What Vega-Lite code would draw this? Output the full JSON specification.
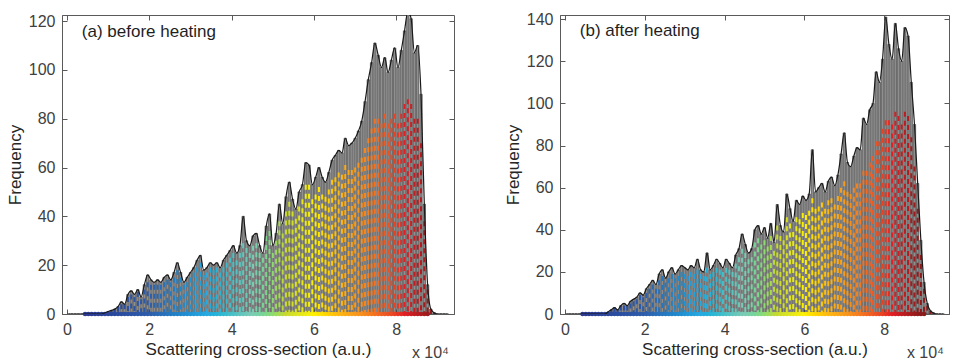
{
  "$schema": "https://vega.github.io/schema/vega-lite/v6.json",
  "background": "white",
  "padding": {"left": 5, "top": 10, "right": 4, "bottom": 0},
  "spacing": 48,
  "datasets": {
    "a": [
      {"x":0.04,"f":0,"c":0},{"x":0.12,"f":0,"c":0},{"x":0.2,"f":0,"c":0},{"x":0.28,"f":0,"c":0},{"x":0.36,"f":0,"c":0},{"x":0.44,"f":0,"c":0},{"x":0.52,"f":0,"c":0},{"x":0.6,"f":0,"c":0},{"x":0.68,"f":0,"c":0},{"x":0.76,"f":0,"c":0},{"x":0.84,"f":0,"c":0},
      {"x":0.92,"f":0.5,"c":0.5},{"x":1.0,"f":1,"c":1},{"x":1.08,"f":1.5,"c":1.5},{"x":1.16,"f":2,"c":2},{"x":1.24,"f":3,"c":3},{"x":1.32,"f":5,"c":4},{"x":1.4,"f":4,"c":4},{"x":1.48,"f":8,"c":7},{"x":1.56,"f":9.5,"c":8},{"x":1.64,"f":8,"c":7},{"x":1.72,"f":10,"c":9},{"x":1.8,"f":7,"c":6},{"x":1.88,"f":12,"c":10},{"x":1.96,"f":16,"c":13},
      {"x":2.04,"f":14,"c":12},{"x":2.12,"f":13,"c":12},{"x":2.2,"f":14,"c":12},{"x":2.28,"f":13,"c":12},{"x":2.36,"f":15,"c":13},{"x":2.44,"f":16,"c":14},{"x":2.52,"f":14,"c":13},{"x":2.6,"f":17,"c":15},{"x":2.68,"f":21,"c":18},{"x":2.76,"f":17,"c":15},{"x":2.84,"f":13,"c":12},{"x":2.92,"f":15,"c":13},
      {"x":3.0,"f":17,"c":15},{"x":3.08,"f":19,"c":17},{"x":3.16,"f":22,"c":19},{"x":3.24,"f":24,"c":21},{"x":3.32,"f":18,"c":16},{"x":3.4,"f":19,"c":17},{"x":3.48,"f":21,"c":19},{"x":3.56,"f":20,"c":18},{"x":3.64,"f":21,"c":19},{"x":3.72,"f":19,"c":17},{"x":3.8,"f":22,"c":19},{"x":3.88,"f":24,"c":21},{"x":3.96,"f":26,"c":23},
      {"x":4.04,"f":28,"c":25},{"x":4.12,"f":25,"c":22},{"x":4.2,"f":28,"c":25},{"x":4.28,"f":40,"c":29},{"x":4.36,"f":30,"c":27},{"x":4.44,"f":28,"c":25},{"x":4.52,"f":32,"c":28},{"x":4.6,"f":33,"c":29},{"x":4.68,"f":28,"c":25},{"x":4.76,"f":25,"c":23},{"x":4.84,"f":36,"c":32},{"x":4.92,"f":41,"c":34},
      {"x":5.0,"f":28,"c":25},{"x":5.08,"f":33,"c":30},{"x":5.16,"f":45,"c":38},{"x":5.24,"f":37,"c":33},{"x":5.32,"f":48,"c":42},{"x":5.4,"f":54,"c":46},{"x":5.48,"f":47,"c":42},{"x":5.56,"f":43,"c":39},{"x":5.64,"f":50,"c":44},{"x":5.72,"f":53,"c":47},{"x":5.8,"f":62,"c":53},{"x":5.88,"f":61,"c":53},{"x":5.96,"f":53,"c":47},
      {"x":6.04,"f":56,"c":49},{"x":6.12,"f":60,"c":52},{"x":6.2,"f":56,"c":49},{"x":6.28,"f":54,"c":48},{"x":6.36,"f":58,"c":51},{"x":6.44,"f":63,"c":55},{"x":6.52,"f":65,"c":56},{"x":6.6,"f":67,"c":58},{"x":6.68,"f":66,"c":57},{"x":6.76,"f":72,"c":61},{"x":6.84,"f":69,"c":59},{"x":6.92,"f":70,"c":59},
      {"x":7.0,"f":72,"c":60},{"x":7.08,"f":75,"c":62},{"x":7.16,"f":79,"c":64},{"x":7.24,"f":87,"c":68},{"x":7.32,"f":96,"c":72},{"x":7.4,"f":103,"c":76},{"x":7.48,"f":111,"c":80},{"x":7.56,"f":106,"c":80},{"x":7.64,"f":101,"c":78},{"x":7.72,"f":105,"c":82},{"x":7.8,"f":99,"c":78},{"x":7.88,"f":104,"c":80},{"x":7.96,"f":109,"c":82},
      {"x":8.04,"f":101,"c":78},{"x":8.12,"f":108,"c":82},{"x":8.2,"f":116,"c":86},{"x":8.28,"f":124,"c":88},{"x":8.36,"f":121,"c":86},{"x":8.44,"f":107,"c":80},{"x":8.52,"f":110,"c":80},{"x":8.6,"f":90,"c":70},{"x":8.68,"f":45,"c":38},{"x":8.76,"f":12,"c":10},{"x":8.84,"f":2,"c":2},{"x":8.92,"f":0.5,"c":0.5},
      {"x":9.0,"f":0,"c":0},{"x":9.08,"f":0,"c":0},{"x":9.16,"f":0,"c":0},{"x":9.24,"f":0,"c":0}
    ],
    "b": [
      {"x":0.04,"f":0,"c":0},{"x":0.12,"f":0,"c":0},{"x":0.2,"f":0,"c":0},{"x":0.28,"f":0,"c":0},{"x":0.36,"f":0,"c":0},{"x":0.44,"f":0,"c":0},{"x":0.52,"f":0,"c":0},{"x":0.6,"f":0,"c":0},{"x":0.68,"f":0,"c":0},{"x":0.76,"f":0,"c":0},{"x":0.84,"f":0,"c":0},{"x":0.92,"f":0,"c":0},{"x":1.0,"f":0,"c":0},
      {"x":1.08,"f":1,"c":1},{"x":1.16,"f":2,"c":2},{"x":1.24,"f":3,"c":3},{"x":1.32,"f":2,"c":2},{"x":1.4,"f":4,"c":4},{"x":1.48,"f":5,"c":4},{"x":1.56,"f":4,"c":4},{"x":1.64,"f":6,"c":5},{"x":1.72,"f":7,"c":6},{"x":1.8,"f":8,"c":7},{"x":1.88,"f":10,"c":9},{"x":1.96,"f":9,"c":8},
      {"x":2.04,"f":12,"c":10},{"x":2.12,"f":14,"c":12},{"x":2.2,"f":16,"c":14},{"x":2.28,"f":14,"c":12},{"x":2.36,"f":19,"c":16},{"x":2.44,"f":21,"c":18},{"x":2.52,"f":17,"c":15},{"x":2.6,"f":20,"c":17},{"x":2.68,"f":22,"c":19},{"x":2.76,"f":19,"c":17},{"x":2.84,"f":21,"c":18},{"x":2.92,"f":23,"c":20},
      {"x":3.0,"f":22,"c":19},{"x":3.08,"f":21,"c":18},{"x":3.16,"f":23,"c":20},{"x":3.24,"f":22,"c":19},{"x":3.32,"f":26,"c":21},{"x":3.4,"f":21,"c":19},{"x":3.48,"f":20,"c":18},{"x":3.56,"f":29,"c":22},{"x":3.64,"f":21,"c":19},{"x":3.72,"f":23,"c":20},{"x":3.8,"f":26,"c":22},{"x":3.88,"f":24,"c":21},{"x":3.96,"f":22,"c":20},
      {"x":4.04,"f":26,"c":22},{"x":4.12,"f":24,"c":21},{"x":4.2,"f":22,"c":20},{"x":4.28,"f":28,"c":24},{"x":4.36,"f":31,"c":27},{"x":4.44,"f":38,"c":31},{"x":4.52,"f":33,"c":29},{"x":4.6,"f":29,"c":26},{"x":4.68,"f":31,"c":27},{"x":4.76,"f":40,"c":34},{"x":4.84,"f":42,"c":36},{"x":4.92,"f":38,"c":33},
      {"x":5.0,"f":41,"c":35},{"x":5.08,"f":36,"c":32},{"x":5.16,"f":43,"c":37},{"x":5.24,"f":34,"c":30},{"x":5.32,"f":52,"c":42},{"x":5.4,"f":42,"c":37},{"x":5.48,"f":39,"c":35},{"x":5.56,"f":57,"c":46},{"x":5.64,"f":50,"c":43},{"x":5.72,"f":44,"c":39},{"x":5.8,"f":54,"c":46},{"x":5.88,"f":52,"c":45},{"x":5.96,"f":56,"c":48},
      {"x":6.04,"f":54,"c":47},{"x":6.12,"f":57,"c":49},{"x":6.2,"f":78,"c":55},{"x":6.28,"f":58,"c":50},{"x":6.36,"f":60,"c":51},{"x":6.44,"f":62,"c":53},{"x":6.52,"f":58,"c":50},{"x":6.6,"f":63,"c":54},{"x":6.68,"f":65,"c":55},{"x":6.76,"f":61,"c":52},{"x":6.84,"f":66,"c":56},{"x":6.92,"f":76,"c":60},
      {"x":7.0,"f":86,"c":63},{"x":7.08,"f":72,"c":58},{"x":7.16,"f":70,"c":57},{"x":7.24,"f":75,"c":60},{"x":7.32,"f":79,"c":62},{"x":7.4,"f":78,"c":62},{"x":7.48,"f":93,"c":68},{"x":7.56,"f":90,"c":68},{"x":7.64,"f":97,"c":72},{"x":7.72,"f":100,"c":75},{"x":7.8,"f":115,"c":82},{"x":7.88,"f":110,"c":82},{"x":7.96,"f":121,"c":88},
      {"x":8.04,"f":141,"c":92},{"x":8.12,"f":128,"c":92},{"x":8.2,"f":121,"c":90},{"x":8.28,"f":138,"c":96},{"x":8.36,"f":126,"c":94},{"x":8.44,"f":120,"c":90},{"x":8.52,"f":136,"c":96},{"x":8.6,"f":132,"c":94},{"x":8.68,"f":110,"c":84},{"x":8.76,"f":90,"c":70},{"x":8.84,"f":62,"c":50},{"x":8.92,"f":35,"c":28},
      {"x":9.0,"f":15,"c":12},{"x":9.08,"f":5,"c":4},{"x":9.16,"f":1.5,"c":1.5},{"x":9.24,"f":0.5,"c":0.5},{"x":9.32,"f":0,"c":0},{"x":9.4,"f":0,"c":0},{"x":9.48,"f":0,"c":0}
    ]
  },
  "hconcat": [
    {
      "width": 392,
      "height": 299,
      "data": {"name": "a"},
      "resolve": {"axis": {"x": "independent", "y": "independent"}},
      "layer": [
        {
          "mark": {"type": "bar", "orient": "vertical", "width": 2.4, "fill": "#8f8f8f", "stroke": "#333333", "strokeWidth": 0.6, "clip": true},
          "encoding": {
            "x": {"field": "x", "type": "quantitative", "scale": {"domain": [0, 9.28], "nice": false, "zero": false}, "axis": {"values": [0, 2, 4, 6, 8], "title": "Scattering cross-section (a.u.)"}},
            "y": {"field": "f", "type": "quantitative", "scale": {"domain": [0, 122.5], "nice": false}, "axis": {"values": [0, 20, 40, 60, 80, 100, 120], "title": "Frequency"}}
          }
        },
        {
          "mark": {"type": "rule", "strokeWidth": 2, "strokeDash": [5, 4], "clip": true},
          "encoding": {
            "x": {"field": "x", "type": "quantitative", "axis": {"orient": "top", "values": [0, 2, 4, 6, 8], "labels": false, "title": null, "domain": false}},
            "y": {"field": "c", "type": "quantitative", "axis": {"orient": "right", "values": [0, 20, 40, 60, 80, 100, 120], "labels": false, "title": null, "domain": false}},
            "y2": {"datum": 0},
            "color": {"field": "x", "type": "quantitative", "legend": null, "scale": {"domain": [0.5, 2, 3.4, 4.5, 5.3, 6.0, 6.6, 7.1, 7.6, 8.2, 8.9], "range": ["#2b3990", "#2e5daa", "#27aae1", "#7dcbb4", "#c5d92d", "#fff200", "#fdb913", "#f7941d", "#f26522", "#e31e25", "#8b1a1a"], "clamp": true}}
          }
        },
        {
          "transform": [{"filter": "datum.x >= 0.44 && datum.x <= 8.8"}],
          "mark": {"type": "point", "filled": true, "size": 22, "opacity": 1},
          "encoding": {
            "x": {"field": "x", "type": "quantitative", "axis": null},
            "y": {"datum": 0, "axis": null},
            "color": {"field": "x", "type": "quantitative", "legend": null}
          }
        },
        {
          "mark": {"type": "line", "interpolate": "monotone", "color": "#1a1a1a", "strokeWidth": 1.2, "clip": true},
          "encoding": {
            "x": {"field": "x", "type": "quantitative", "axis": null},
            "y": {"field": "f", "type": "quantitative", "axis": null}
          }
        },
        {
          "data": {"values": [{}]},
          "mark": {"type": "text", "text": "(a) before heating", "align": "left", "baseline": "alphabetic", "fontSize": 17, "color": "#1f1f1f"},
          "encoding": {"x": {"datum": 0.36, "axis": null}, "y": {"datum": 113.5, "axis": null}}
        },
        {
          "data": {"values": [{}]},
          "mark": {"type": "text", "text": "x 10⁴", "align": "right", "baseline": "alphabetic", "dy": 44, "fontSize": 16, "color": "#404040"},
          "encoding": {"x": {"datum": 9.28, "axis": null}, "y": {"datum": 0, "axis": null}}
        }
      ]
    },
    {
      "width": 389,
      "height": 299,
      "data": {"name": "b"},
      "resolve": {"axis": {"x": "independent", "y": "independent"}},
      "layer": [
        {
          "mark": {"type": "bar", "orient": "vertical", "width": 2.3, "fill": "#8f8f8f", "stroke": "#333333", "strokeWidth": 0.6, "clip": true},
          "encoding": {
            "x": {"field": "x", "type": "quantitative", "scale": {"domain": [0, 9.5], "nice": false, "zero": false}, "axis": {"values": [0, 2, 4, 6, 8], "title": "Scattering cross-section (a.u.)"}},
            "y": {"field": "f", "type": "quantitative", "scale": {"domain": [0, 142], "nice": false}, "axis": {"values": [0, 20, 40, 60, 80, 100, 120, 140], "title": "Frequency"}}
          }
        },
        {
          "mark": {"type": "rule", "strokeWidth": 2, "strokeDash": [5, 4], "clip": true},
          "encoding": {
            "x": {"field": "x", "type": "quantitative", "axis": {"orient": "top", "values": [0, 2, 4, 6, 8], "labels": false, "title": null, "domain": false}},
            "y": {"field": "c", "type": "quantitative", "axis": {"orient": "right", "values": [0, 20, 40, 60, 80, 100, 120, 140], "labels": false, "title": null, "domain": false}},
            "y2": {"datum": 0},
            "color": {"field": "x", "type": "quantitative", "legend": null}
          }
        },
        {
          "transform": [{"filter": "datum.x >= 0.44 && datum.x <= 9.0"}],
          "mark": {"type": "point", "filled": true, "size": 22, "opacity": 1},
          "encoding": {
            "x": {"field": "x", "type": "quantitative", "axis": null},
            "y": {"datum": 0, "axis": null},
            "color": {"field": "x", "type": "quantitative", "legend": null}
          }
        },
        {
          "mark": {"type": "line", "interpolate": "monotone", "color": "#1a1a1a", "strokeWidth": 1.2, "clip": true},
          "encoding": {
            "x": {"field": "x", "type": "quantitative", "axis": null},
            "y": {"field": "f", "type": "quantitative", "axis": null}
          }
        },
        {
          "data": {"values": [{}]},
          "mark": {"type": "text", "text": "(b) after heating", "align": "left", "baseline": "alphabetic", "fontSize": 17, "color": "#1f1f1f"},
          "encoding": {"x": {"datum": 0.37, "axis": null}, "y": {"datum": 132, "axis": null}}
        },
        {
          "data": {"values": [{}]},
          "mark": {"type": "text", "text": "x 10⁴", "align": "right", "baseline": "alphabetic", "dy": 44, "fontSize": 16, "color": "#404040"},
          "encoding": {"x": {"datum": 9.5, "axis": null}, "y": {"datum": 0, "axis": null}}
        }
      ]
    }
  ],
  "config": {
    "font": "Liberation Sans",
    "view": {"stroke": "#5a5a5a", "strokeWidth": 1},
    "axis": {
      "labelFont": "Liberation Sans",
      "titleFont": "Liberation Sans",
      "labelFontSize": 16,
      "titleFontSize": 17,
      "titleFontWeight": "normal",
      "labelColor": "#404040",
      "titleColor": "#262626",
      "tickColor": "#5a5a5a",
      "domainColor": "#5a5a5a",
      "tickSize": -5,
      "labelPadding": 12,
      "titlePadding": 4,
      "grid": false
    }
  }
}
